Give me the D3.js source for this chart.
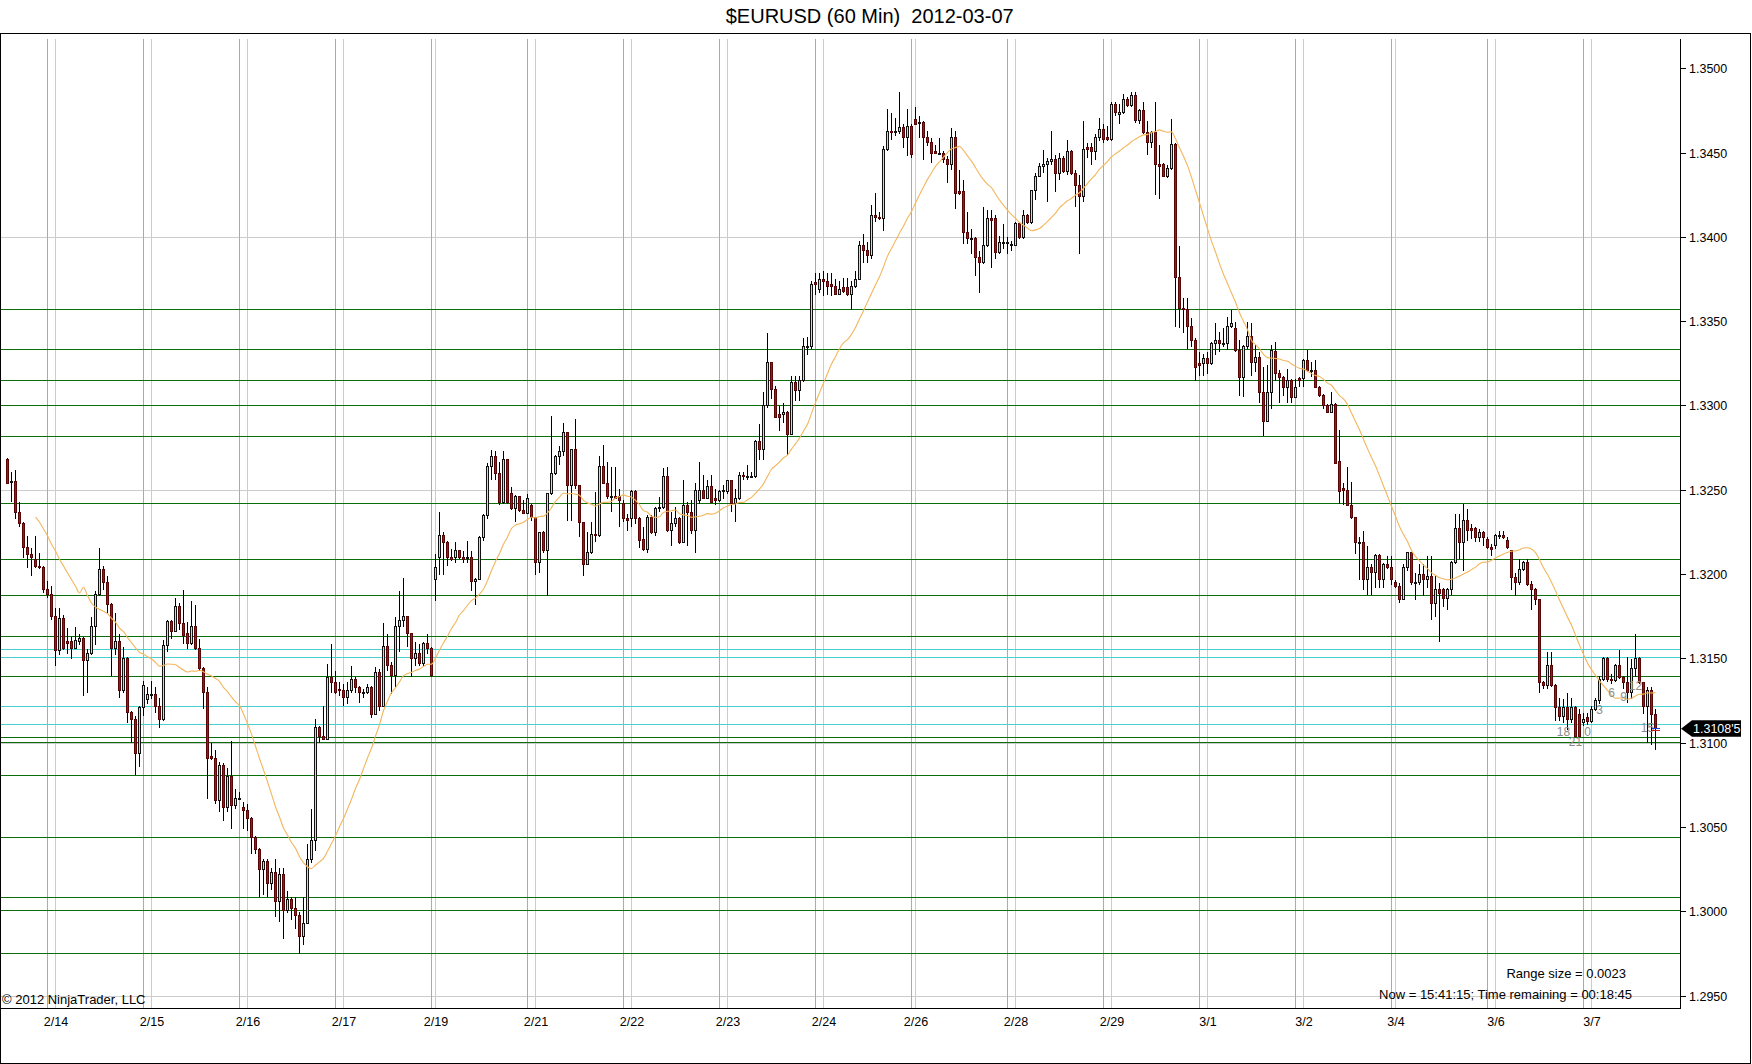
<!DOCTYPE html>
<html>
<head>
<meta charset="utf-8">
<title>$EURUSD (60 Min) 2012-03-07</title>
<script src="https://cdn.jsdelivr.net/npm/d3@7/dist/d3.min.js"></script>
<style>
  html, body { margin: 0; padding: 0; background: #ffffff; }
  svg { display: block; font-family: "Liberation Sans", Arial, Helvetica, sans-serif; }
</style>
</head>
<body>
<svg id="chart" width="1752" height="1064"></svg>
<script>
// ================= DATA =================
const chartTitle = "$EURUSD (60 Min)  2012-03-07";

// hourly OHLC bars, oldest first (bar index 0 .. 412)
const openP = [
1.3268,1.3255,1.3255,1.3237,1.3230,1.3216,1.3212,1.3209,1.3205,1.3204,
1.3191,1.3188,1.3175,1.3155,1.3174,1.3160,1.3160,1.3156,1.3160,1.3162,
1.3149,1.3153,1.3169,1.3188,1.3203,1.3195,1.3182,1.3156,1.3160,1.3131,
1.3150,1.3118,1.3114,1.3094,1.3121,1.3126,1.3129,1.3129,1.3122,1.3114,
1.3158,1.3172,1.3166,1.3181,1.3171,1.3165,1.3159,1.3169,1.3156,1.3144,
1.3130,1.3092,1.3091,1.3066,1.3087,1.3062,1.3080,1.3063,1.3067,1.3062,
1.3060,1.3055,1.3044,1.3037,1.3025,1.3030,1.3017,1.3023,1.3006,1.3022,
1.3001,1.3007,1.3002,1.2998,1.2985,1.2993,1.3031,1.3042,1.3109,1.3104,
1.3102,1.3139,1.3136,1.3132,1.3131,1.3127,1.3131,1.3138,1.3133,1.3130,
1.3130,1.3133,1.3117,1.3142,1.3122,1.3157,1.3146,1.3140,1.3169,1.3173,
1.3175,1.3165,1.3150,1.3153,1.3147,1.3159,1.3156,1.3197,1.3210,1.3223,
1.3219,1.3210,1.3210,1.3214,1.3210,1.3210,1.3210,1.3196,1.3197,1.3222,
1.3235,1.3264,1.3270,1.3260,1.3243,1.3268,1.3248,1.3239,1.3246,1.3238,
1.3236,1.3241,1.3234,1.3207,1.3225,1.3214,1.3248,1.3260,1.3270,1.3273,
1.3284,1.3253,1.3274,1.3253,1.3231,1.3206,1.3213,1.3224,1.3223,1.3264,
1.3254,1.3246,1.3246,1.3246,1.3242,1.3233,1.3233,1.3249,1.3233,1.3221,
1.3215,1.3234,1.3225,1.3239,1.3240,1.3258,1.3226,1.3230,1.3233,1.3219,
1.3241,1.3237,1.3226,1.3244,1.3250,1.3245,1.3252,1.3245,1.3244,1.3250,
1.3249,1.3256,1.3242,1.3245,1.3259,1.3258,1.3258,1.3258,1.3279,1.3274,
1.3300,1.3326,1.3310,1.3295,1.3295,1.3296,1.3283,1.3314,1.3309,1.3315,
1.3335,1.3335,1.3373,1.3369,1.3375,1.3374,1.3372,1.3371,1.3366,1.3370,
1.3370,1.3366,1.3371,1.3375,1.3395,1.3392,1.3389,1.3413,1.3412,1.3411,
1.3452,1.3463,1.3463,1.3463,1.3465,1.3459,1.3466,1.3470,1.3468,1.3468,
1.3459,1.3456,1.3451,1.3450,1.3450,1.3446,1.3443,1.3459,1.3427,1.3427,
1.3403,1.3399,1.3399,1.3388,1.3385,1.3395,1.3411,1.3411,1.3391,1.3397,
1.3397,1.3396,1.3395,1.3408,1.3400,1.3413,1.3409,1.3428,1.3436,1.3442,
1.3443,1.3445,1.3446,1.3438,1.3447,1.3439,1.3451,1.3438,1.3431,1.3424,
1.3453,1.3453,1.3451,1.3459,1.3464,1.3459,1.3458,1.3479,1.3473,1.3474,
1.3482,1.3478,1.3484,1.3469,1.3475,1.3462,1.3456,1.3462,1.3443,1.3443,
1.3436,1.3441,1.3455,1.3376,1.3358,1.3357,1.3347,1.3339,1.3325,1.3325,
1.3328,1.3325,1.3337,1.3339,1.3337,1.3337,1.3347,1.3346,1.3333,1.3317,
1.3335,1.3341,1.3326,1.3329,1.3308,1.3291,1.3308,1.3332,1.3319,1.3317,
1.3311,1.3315,1.3305,1.3316,1.3316,1.3327,1.3321,1.3321,1.3311,1.3306,
1.3300,1.3296,1.3301,1.3267,1.3251,1.3250,1.3241,1.3234,1.3219,1.3219,
1.3197,1.3204,1.3201,1.3211,1.3197,1.3206,1.3204,1.3195,1.3193,1.3185,
1.3204,1.3213,1.3195,1.3195,1.3200,1.3197,1.3199,1.3183,1.3191,1.3191,
1.3186,1.3191,1.3207,1.3227,1.3219,1.3232,1.3227,1.3227,1.3222,1.3225,
1.3221,1.3216,1.3217,1.3223,1.3223,1.3220,1.3214,1.3198,1.3195,1.3203,
1.3207,1.3194,1.3191,1.3185,1.3136,1.3134,1.3146,1.3134,1.3121,1.3116,
1.3121,1.3114,1.3121,1.3117,1.3112,1.3115,1.3113,1.3120,1.3125,1.3138,
1.3150,1.3138,1.3137,1.3146,1.3139,1.3136,1.3130,1.3144,1.3150,1.3136,
1.3122,1.3131,1.3117];

const highP = [
1.3269,1.3261,1.3262,1.3243,1.3231,1.3223,1.3216,1.3223,1.3213,1.3205,
1.3196,1.3193,1.3180,1.3180,1.3176,1.3168,1.3163,1.3169,1.3165,1.3163,
1.3156,1.3175,1.3190,1.3216,1.3205,1.3199,1.3183,1.3177,1.3165,1.3157,
1.3151,1.3119,1.3116,1.3122,1.3137,1.3133,1.3137,1.3133,1.3127,1.3161,
1.3173,1.3173,1.3186,1.3183,1.3191,1.3172,1.3184,1.3182,1.3162,1.3145,
1.3133,1.3100,1.3096,1.3089,1.3088,1.3085,1.3101,1.3073,1.3071,1.3065,
1.3064,1.3056,1.3045,1.3038,1.3031,1.3031,1.3026,1.3031,1.3026,1.3026,
1.3012,1.3009,1.3009,1.3000,1.3009,1.3040,1.3061,1.3114,1.3110,1.3122,
1.3147,1.3159,1.3143,1.3136,1.3135,1.3136,1.3146,1.3139,1.3134,1.3132,
1.3135,1.3134,1.3145,1.3144,1.3171,1.3165,1.3148,1.3175,1.3190,1.3198,
1.3175,1.3165,1.3160,1.3159,1.3160,1.3165,1.3157,1.3212,1.3237,1.3225,
1.3220,1.3215,1.3219,1.3214,1.3214,1.3220,1.3214,1.3198,1.3223,1.3236,
1.3266,1.3274,1.3273,1.3267,1.3273,1.3268,1.3252,1.3247,1.3246,1.3244,
1.3248,1.3242,1.3234,1.3225,1.3226,1.3248,1.3294,1.3271,1.3276,1.3290,
1.3284,1.3274,1.3292,1.3253,1.3231,1.3225,1.3231,1.3249,1.3270,1.3277,
1.3267,1.3264,1.3264,1.3251,1.3244,1.3236,1.3250,1.3250,1.3234,1.3228,
1.3235,1.3235,1.3240,1.3246,1.3263,1.3264,1.3237,1.3240,1.3234,1.3256,
1.3243,1.3244,1.3254,1.3267,1.3259,1.3256,1.3259,1.3251,1.3250,1.3253,
1.3256,1.3256,1.3251,1.3261,1.3261,1.3265,1.3261,1.3280,1.3289,1.3308,
1.3343,1.3326,1.3312,1.3300,1.3302,1.3297,1.3318,1.3318,1.3318,1.3340,
1.3341,1.3374,1.3379,1.3379,1.3380,1.3379,1.3379,1.3375,1.3374,1.3376,
1.3376,1.3374,1.3380,1.3398,1.3402,1.3397,1.3419,1.3426,1.3415,1.3454,
1.3476,1.3474,1.3471,1.3486,1.3467,1.3476,1.3467,1.3477,1.3472,1.3469,
1.3463,1.3459,1.3455,1.3459,1.3451,1.3448,1.3465,1.3463,1.3440,1.3434,
1.3415,1.3405,1.3400,1.3392,1.3418,1.3416,1.3416,1.3413,1.3401,1.3408,
1.3400,1.3398,1.3409,1.3408,1.3416,1.3414,1.3428,1.3438,1.3444,1.3452,
1.3447,1.3463,1.3449,1.3450,1.3448,1.3458,1.3452,1.3440,1.3437,1.3469,
1.3456,1.3456,1.3461,1.3471,1.3467,1.3466,1.3480,1.3480,1.3479,1.3485,
1.3483,1.3486,1.3486,1.3476,1.3480,1.3469,1.3463,1.3480,1.3455,1.3444,
1.3443,1.3470,1.3456,1.3395,1.3364,1.3364,1.3352,1.3340,1.3332,1.3331,
1.3332,1.3338,1.3349,1.3344,1.3346,1.3353,1.3357,1.3350,1.3339,1.3336,
1.3350,1.3349,1.3336,1.3332,1.3323,1.3324,1.3336,1.3338,1.3321,1.3318,
1.3322,1.3316,1.3316,1.3317,1.3328,1.3333,1.3326,1.3327,1.3312,1.3307,
1.3301,1.3308,1.3302,1.3286,1.3254,1.3264,1.3255,1.3234,1.3222,1.3226,
1.3217,1.3206,1.3212,1.3212,1.3207,1.3211,1.3211,1.3197,1.3195,1.3206,
1.3213,1.3213,1.3201,1.3206,1.3206,1.3211,1.3211,1.3199,1.3195,1.3192,
1.3192,1.3208,1.3236,1.3236,1.3242,1.3239,1.3230,1.3228,1.3227,1.3226,
1.3222,1.3218,1.3224,1.3226,1.3226,1.3222,1.3214,1.3201,1.3209,1.3208,
1.3209,1.3196,1.3192,1.3185,1.3137,1.3154,1.3154,1.3135,1.3127,1.3126,
1.3130,1.3127,1.3122,1.3120,1.3118,1.3118,1.3122,1.3127,1.3140,1.3151,
1.3151,1.3141,1.3147,1.3155,1.3140,1.3151,1.3150,1.3165,1.3151,1.3136,
1.3133,1.3133,1.3120];

const lowP = [
1.3254,1.3243,1.3233,1.3228,1.3210,1.3204,1.3199,1.3204,1.3203,1.3189,
1.3186,1.3173,1.3146,1.3152,1.3155,1.3153,1.3150,1.3156,1.3158,1.3128,
1.3130,1.3152,1.3158,1.3187,1.3191,1.3177,1.3140,1.3152,1.3127,1.3130,
1.3112,1.3100,1.3081,1.3086,1.3116,1.3123,1.3126,1.3118,1.3109,1.3113,
1.3154,1.3162,1.3166,1.3167,1.3159,1.3156,1.3158,1.3155,1.3143,1.3120,
1.3067,1.3090,1.3064,1.3059,1.3054,1.3059,1.3049,1.3061,1.3066,1.3049,
1.3048,1.3034,1.3034,1.3009,1.3010,1.3009,1.3013,1.2997,1.2994,1.2984,
1.2999,1.2995,1.2990,1.2975,1.2980,1.2993,1.3029,1.3036,1.3100,1.3102,
1.3102,1.3130,1.3129,1.3128,1.3122,1.3123,1.3130,1.3130,1.3124,1.3127,
1.3129,1.3115,1.3117,1.3119,1.3122,1.3143,1.3129,1.3133,1.3154,1.3169,
1.3157,1.3139,1.3146,1.3146,1.3146,1.3153,1.3139,1.3184,1.3200,1.3200,
1.3205,1.3208,1.3207,1.3209,1.3207,1.3207,1.3190,1.3182,1.3197,1.3220,
1.3233,1.3256,1.3256,1.3241,1.3242,1.3242,1.3238,1.3231,1.3237,1.3236,
1.3236,1.3232,1.3200,1.3201,1.3213,1.3187,1.3247,1.3259,1.3265,1.3270,
1.3232,1.3232,1.3251,1.3222,1.3199,1.3206,1.3212,1.3219,1.3222,1.3254,
1.3245,1.3237,1.3245,1.3228,1.3231,1.3226,1.3228,1.3230,1.3216,1.3214,
1.3213,1.3224,1.3223,1.3237,1.3239,1.3225,1.3217,1.3228,1.3218,1.3219,
1.3217,1.3224,1.3213,1.3242,1.3245,1.3245,1.3243,1.3241,1.3243,1.3245,
1.3248,1.3237,1.3231,1.3244,1.3256,1.3256,1.3257,1.3257,1.3268,1.3268,
1.3299,1.3304,1.3293,1.3285,1.3290,1.3271,1.3283,1.3303,1.3303,1.3314,
1.3330,1.3334,1.3366,1.3367,1.3365,1.3366,1.3365,1.3366,1.3366,1.3367,
1.3365,1.3357,1.3370,1.3375,1.3385,1.3385,1.3387,1.3409,1.3410,1.3404,
1.3451,1.3458,1.3460,1.3461,1.3453,1.3448,1.3447,1.3467,1.3459,1.3446,
1.3454,1.3444,1.3450,1.3450,1.3444,1.3432,1.3440,1.3417,1.3425,1.3396,
1.3396,1.3390,1.3377,1.3367,1.3384,1.3394,1.3382,1.3387,1.3390,1.3393,
1.3390,1.3392,1.3395,1.3399,1.3399,1.3408,1.3408,1.3422,1.3436,1.3438,
1.3421,1.3443,1.3427,1.3434,1.3438,1.3437,1.3437,1.3418,1.3390,1.3421,
1.3447,1.3443,1.3446,1.3457,1.3456,1.3457,1.3457,1.3472,1.3467,1.3473,
1.3477,1.3477,1.3468,1.3467,1.3461,1.3449,1.3453,1.3425,1.3423,1.3436,
1.3435,1.3440,1.3347,1.3346,1.3343,1.3334,1.3335,1.3315,1.3318,1.3318,
1.3319,1.3324,1.3330,1.3332,1.3335,1.3333,1.3346,1.3332,1.3306,1.3305,
1.3334,1.3318,1.3320,1.3302,1.3282,1.3291,1.3298,1.3315,1.3302,1.3306,
1.3302,1.3302,1.3305,1.3311,1.3311,1.3320,1.3317,1.3311,1.3305,1.3298,
1.3296,1.3296,1.3266,1.3242,1.3241,1.3241,1.3233,1.3212,1.3197,1.3191,
1.3188,1.3188,1.3192,1.3192,1.3192,1.3203,1.3194,1.3192,1.3183,1.3185,
1.3202,1.3194,1.3185,1.3194,1.3187,1.3192,1.3173,1.3175,1.3160,1.3181,
1.3179,1.3188,1.3206,1.3209,1.3202,1.3220,1.3221,1.3219,1.3219,1.3217,
1.3215,1.3211,1.3215,1.3221,1.3221,1.3215,1.3191,1.3187,1.3194,1.3202,
1.3193,1.3179,1.3182,1.3130,1.3132,1.3132,1.3133,1.3113,1.3113,1.3112,
1.3108,1.3112,1.3104,1.3103,1.3110,1.3111,1.3112,1.3119,1.3123,1.3137,
1.3136,1.3135,1.3136,1.3138,1.3132,1.3124,1.3126,1.3139,1.3135,1.3117,
1.3100,1.3099,1.3096];

const closeP = [
1.3254,1.3255,1.3237,1.3230,1.3216,1.3212,1.3210,1.3205,1.3204,1.3191,
1.3188,1.3175,1.3155,1.3174,1.3156,1.3159,1.3156,1.3161,1.3162,1.3149,
1.3153,1.3169,1.3188,1.3203,1.3195,1.3182,1.3156,1.3160,1.3131,1.3150,
1.3118,1.3114,1.3094,1.3121,1.3134,1.3129,1.3129,1.3122,1.3114,1.3158,
1.3172,1.3166,1.3181,1.3171,1.3164,1.3159,1.3169,1.3156,1.3144,1.3130,
1.3091,1.3091,1.3066,1.3087,1.3062,1.3080,1.3063,1.3067,1.3067,1.3060,
1.3055,1.3044,1.3037,1.3025,1.3030,1.3017,1.3023,1.3006,1.3022,1.3001,
1.3007,1.3002,1.2998,1.2985,1.2993,1.3031,1.3042,1.3109,1.3104,1.3102,
1.3139,1.3136,1.3130,1.3131,1.3127,1.3131,1.3138,1.3133,1.3130,1.3130,
1.3133,1.3117,1.3142,1.3122,1.3157,1.3146,1.3140,1.3169,1.3173,1.3175,
1.3165,1.3150,1.3153,1.3147,1.3159,1.3156,1.3140,1.3204,1.3223,1.3219,
1.3210,1.3209,1.3214,1.3210,1.3209,1.3210,1.3196,1.3197,1.3222,1.3235,
1.3264,1.3270,1.3260,1.3243,1.3268,1.3243,1.3239,1.3246,1.3238,1.3236,
1.3245,1.3234,1.3207,1.3225,1.3214,1.3248,1.3260,1.3270,1.3273,1.3284,
1.3253,1.3274,1.3253,1.3231,1.3206,1.3213,1.3224,1.3223,1.3264,1.3254,
1.3246,1.3246,1.3245,1.3244,1.3233,1.3232,1.3249,1.3233,1.3220,1.3215,
1.3234,1.3225,1.3239,1.3240,1.3258,1.3226,1.3230,1.3233,1.3219,1.3241,
1.3237,1.3226,1.3250,1.3250,1.3245,1.3252,1.3243,1.3244,1.3249,1.3250,
1.3256,1.3242,1.3245,1.3259,1.3258,1.3258,1.3258,1.3279,1.3274,1.3300,
1.3326,1.3310,1.3293,1.3293,1.3296,1.3283,1.3314,1.3309,1.3315,1.3335,
1.3335,1.3372,1.3372,1.3375,1.3374,1.3371,1.3371,1.3366,1.3369,1.3368,
1.3366,1.3371,1.3375,1.3395,1.3392,1.3389,1.3413,1.3412,1.3411,1.3452,
1.3463,1.3462,1.3463,1.3465,1.3459,1.3466,1.3449,1.3467,1.3468,1.3459,
1.3456,1.3450,1.3450,1.3450,1.3446,1.3443,1.3459,1.3426,1.3426,1.3403,
1.3399,1.3399,1.3388,1.3385,1.3395,1.3411,1.3410,1.3391,1.3397,1.3397,
1.3397,1.3396,1.3408,1.3400,1.3413,1.3409,1.3428,1.3436,1.3442,1.3443,
1.3445,1.3446,1.3438,1.3447,1.3439,1.3451,1.3438,1.3431,1.3424,1.3452,
1.3452,1.3451,1.3459,1.3464,1.3458,1.3458,1.3479,1.3474,1.3474,1.3482,
1.3478,1.3484,1.3469,1.3475,1.3462,1.3456,1.3462,1.3443,1.3442,1.3436,
1.3441,1.3455,1.3376,1.3358,1.3357,1.3347,1.3339,1.3323,1.3324,1.3328,
1.3325,1.3337,1.3339,1.3337,1.3337,1.3347,1.3349,1.3333,1.3317,1.3335,
1.3341,1.3326,1.3329,1.3308,1.3291,1.3308,1.3333,1.3319,1.3317,1.3311,
1.3315,1.3305,1.3311,1.3315,1.3327,1.3321,1.3321,1.3311,1.3306,1.3300,
1.3296,1.3301,1.3266,1.3249,1.3250,1.3241,1.3234,1.3219,1.3219,1.3197,
1.3204,1.3201,1.3211,1.3197,1.3206,1.3204,1.3197,1.3193,1.3185,1.3204,
1.3213,1.3195,1.3195,1.3200,1.3197,1.3199,1.3183,1.3191,1.3189,1.3186,
1.3191,1.3207,1.3227,1.3219,1.3232,1.3226,1.3226,1.3222,1.3225,1.3222,
1.3216,1.3215,1.3223,1.3223,1.3222,1.3216,1.3198,1.3195,1.3203,1.3207,
1.3194,1.3191,1.3185,1.3136,1.3134,1.3146,1.3134,1.3121,1.3116,1.3121,
1.3114,1.3121,1.3104,1.3104,1.3114,1.3113,1.3120,1.3125,1.3138,1.3150,
1.3138,1.3137,1.3146,1.3139,1.3136,1.3130,1.3144,1.3150,1.3136,1.3122,
1.3131,1.3117,1.31085];

// 20-period SMA of close; its first visible values (bars 7..18)
const maPeriod = 20;
const maLeadStart = 7;
const maLead = [1.3234,1.3231,1.3227,1.3223,1.3218,1.3214,1.3209,1.3205,1.3201,1.3197,1.3193,1.3189];

// price axis ticks and the (sparser) horizontal grid values
const yTicks = [1.2950,1.3000,1.3050,1.3100,1.3150,1.3200,1.3250,1.3300,1.3350,1.3400,1.3450,1.3500];
const yGrid  = [1.2950,1.3100,1.3250,1.3400];

// date ticks (bar index at midnight) and labels
const dayBars   = [12,36,60,84,107,132,156,180,204,227,252,276,300,324,347,372,396];
const dayLabels = ["2/14","2/15","2/16","2/17","2/19","2/21","2/22","2/23","2/24","2/26","2/28","2/29","3/1","3/2","3/4","3/6","3/7"];
// session break bars (orange lines)
const sessionBars = [10,34,58,82,106,130,154,178,202,226,250,274,298,322,346,370,394];

// horizontal price levels
const greenLevels = [1.33573,1.33332,1.33148,1.33003,1.32821,1.32422,1.32090,1.31877,1.31635,1.31396,1.31035,1.31005,1.30805,1.30443,1.30082,1.30005,1.29750];
const cyanLevels  = [1.31556,1.31510,1.31218,1.31111];

// hour markers printed below the last bars
const hourBars   = [389,392,395,398,401,404,407,410];
const hourText   = ["18","21","0","3","6","9","12","15"];
const hourPrice  = [1.31068,1.31009,1.31068,1.31196,1.31295,1.31275,1.31339,1.31088];

const lastPrice = 1.31085;
const lastPriceText = "1.3108'5";
const rangeText = "Range size = 0.0023";
const timeText = "Now = 15:41:15; Time remaining = 00:18:45";
const copyrightText = "\u00A9 2012 NinjaTrader, LLC";

// ================= DRAW =================
const bars = d3.range(openP.length);
const svg = d3.select("#chart");
const crisp = v => Math.floor(v) + 0.5;

const x = d3.scaleLinear().domain([0, 412]).range([7.5, 1655.5]);
const y = d3.scaleLinear().domain([1.2950, 1.3500]).range([996, 68.7]);

const PL = 1, PR = 1680, PT = 34, PB = 1008;

svg.append("rect").attr("width", 1752).attr("height", 1064).attr("fill", "#ffffff");

svg.append("defs").append("clipPath").attr("id", "plotclip")
  .append("rect").attr("x", PL).attr("y", PT).attr("width", PR - PL).attr("height", PB - PT);

const plot = svg.append("g").attr("clip-path", "url(#plotclip)");

// gray grid
const grid = plot.append("g").attr("stroke", "#cccccc").attr("stroke-width", 1).attr("shape-rendering", "crispEdges");
grid.selectAll("line.h").data(yGrid).join("line").attr("class", "h")
  .attr("x1", PL).attr("x2", PR).attr("y1", d => crisp(y(d))).attr("y2", d => crisp(y(d)));
grid.selectAll("line.v").data(dayBars).join("line").attr("class", "v")
  .attr("x1", d => crisp(x(d))).attr("x2", d => crisp(x(d))).attr("y1", 39).attr("y2", PB);

// session breaks
plot.append("g").attr("stroke", "#EBA51A").attr("stroke-width", 1).attr("shape-rendering", "crispEdges")
  .selectAll("line").data(sessionBars).join("line")
  .attr("x1", d => crisp(x(d))).attr("x2", d => crisp(x(d))).attr("y1", 39).attr("y2", PB);

// level lines
plot.append("g").attr("stroke", "#48D1CC").attr("stroke-width", 1).attr("shape-rendering", "crispEdges")
  .selectAll("line").data(cyanLevels).join("line")
  .attr("x1", PL).attr("x2", PR).attr("y1", d => crisp(y(d))).attr("y2", d => crisp(y(d)));
plot.append("g").attr("stroke", "#0A6E0A").attr("stroke-width", 1).attr("shape-rendering", "crispEdges")
  .selectAll("line").data(greenLevels).join("line")
  .attr("x1", PL).attr("x2", PR).attr("y1", d => crisp(y(d))).attr("y2", d => crisp(y(d)));

// candles
const isUp = i => closeP[i] >= openP[i];
const cg = plot.append("g");
const cand = cg.selectAll("g.c").data(bars).join("g").attr("class", "c");
cand.append("line")
  .attr("x1", i => crisp(x(i))).attr("x2", i => crisp(x(i)))
  .attr("y1", i => y(highP[i])).attr("y2", i => y(lowP[i]))
  .attr("stroke", "#000").attr("stroke-width", 1).attr("shape-rendering", "crispEdges");
cand.append("rect")
  .attr("x", i => Math.floor(x(i)) - 0.5)
  .attr("width", 2)
  .attr("y", i => crisp(y(Math.max(openP[i], closeP[i]))))
  .attr("height", i => {
    const t = crisp(y(Math.max(openP[i], closeP[i])));
    const b = crisp(y(Math.min(openP[i], closeP[i])));
    return Math.max(b - t, 1);
  })
  .attr("fill", i => isUp(i) ? "#C2E4C2" : "#A81414")
  .attr("stroke", i => isUp(i) ? "#111" : "#5A0505")
  .attr("stroke-width", 1).attr("shape-rendering", "crispEdges");

// moving average
const ma = bars.map(i => {
  if (i < maLeadStart) return null;
  if (i < maLeadStart + maLead.length) return maLead[i - maLeadStart];
  return d3.mean(closeP.slice(i - maPeriod + 1, i + 1));
});
plot.append("path")
  .datum(bars.filter(i => ma[i] != null))
  .attr("fill", "none").attr("stroke", "#F3B65C").attr("stroke-width", 1.1)
  .attr("d", d3.line().x(i => x(i)).y(i => y(ma[i])).curve(d3.curveMonotoneX));

// hour markers
plot.append("g").selectAll("text").data(hourBars).join("text")
  .attr("x", d => x(d)).attr("y", (d, k) => y(hourPrice[k]))
  .attr("text-anchor", "middle").attr("dominant-baseline", "central")
  .attr("font-size", "12px").attr("fill", "#8c8c8c")
  .text((d, k) => hourText[k]);

// last price marker on last bar
const lastBar = bars[bars.length - 1];
plot.append("line").attr("x1", x(lastBar) - 4).attr("x2", x(lastBar) + 4)
  .attr("y1", crisp(y(lastPrice))).attr("y2", crisp(y(lastPrice)))
  .attr("stroke", "#1f3fd8").attr("stroke-width", 1).attr("shape-rendering", "crispEdges");
plot.append("line").attr("x1", x(lastBar) - 4).attr("x2", x(lastBar) + 4)
  .attr("y1", crisp(y(lastPrice)) + 1.5).attr("y2", crisp(y(lastPrice)) + 1.5)
  .attr("stroke", "#d02020").attr("stroke-width", 1).attr("shape-rendering", "crispEdges");

// plot borders
svg.append("line").attr("x1", 0).attr("x2", PR + 0.5).attr("y1", PB + 0.5).attr("y2", PB + 0.5)
  .attr("stroke", "#000").attr("shape-rendering", "crispEdges");
svg.append("line").attr("x1", PR + 0.5).attr("x2", PR + 0.5).attr("y1", 39).attr("y2", PB + 0.5)
  .attr("stroke", "#000").attr("shape-rendering", "crispEdges");

// price axis
const yAxisG = svg.append("g").attr("transform", `translate(${PR},0)`)
  .call(d3.axisRight(y).tickValues(yTicks).tickFormat(d3.format(".4f")).tickSize(6).tickPadding(3));
yAxisG.select(".domain").remove();
yAxisG.selectAll(".tick").attr("transform", d => `translate(0,${crisp(y(d))})`);
yAxisG.selectAll(".tick line").attr("x1", 0.5).attr("stroke", "#000").attr("shape-rendering", "crispEdges");
yAxisG.selectAll(".tick text").attr("font-family", "'Liberation Sans', Arial, sans-serif")
  .attr("font-size", "12.5px").attr("fill", "#000");

// date axis
const xAxisG = svg.append("g").attr("transform", `translate(0,${PB})`)
  .call(d3.axisBottom(x).tickValues(dayBars).tickFormat((d, k) => dayLabels[k]).tickSize(0).tickPadding(9.5));
xAxisG.select(".domain").remove();
xAxisG.selectAll(".tick text").attr("font-family", "'Liberation Sans', Arial, sans-serif")
  .attr("font-size", "12.5px").attr("fill", "#000");

// current price flag
const ly = y(lastPrice);
svg.append("path")
  .attr("d", `M1681,${ly} L1692,${ly - 8.5} L1741,${ly - 8.5} L1741,${ly + 8} L1692,${ly + 8} Z`)
  .attr("fill", "#000");
svg.append("text").attr("x", 1693).attr("y", ly).attr("dominant-baseline", "central")
  .attr("font-size", "12.5px").attr("fill", "#fff").text(lastPriceText);

// title
svg.append("text").attr("x", 869.7).attr("y", 23).attr("text-anchor", "middle")
  .attr("font-size", "20px").attr("fill", "#000").attr("xml:space", "preserve")
  .style("white-space", "pre").text(chartTitle);

// info texts
svg.append("text").attr("x", 1626).attr("y", 978).attr("text-anchor", "end")
  .attr("font-size", "13px").attr("fill", "#000").text(rangeText);
svg.append("text").attr("x", 1632).attr("y", 999).attr("text-anchor", "end")
  .attr("font-size", "13px").attr("fill", "#000").text(timeText);
svg.append("text").attr("x", 2).attr("y", 1004)
  .attr("font-size", "13px").attr("fill", "#000").text(copyrightText);

// outer frame
svg.append("rect").attr("x", 0.5).attr("y", 33.5).attr("width", 1750).attr("height", 1030)
  .attr("fill", "none").attr("stroke", "#000").attr("shape-rendering", "crispEdges");
</script>
</body>
</html>
